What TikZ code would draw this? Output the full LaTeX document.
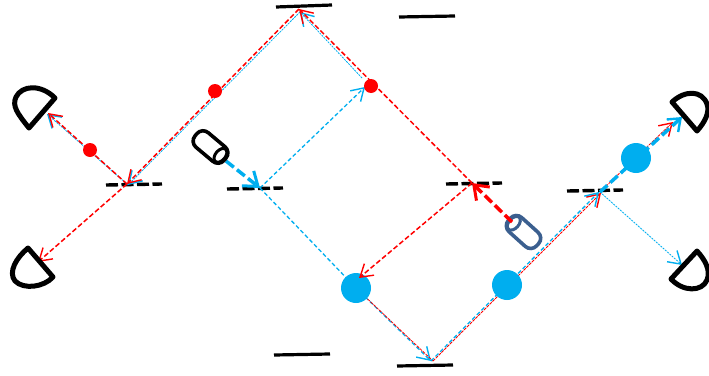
\documentclass[tikz,border=0pt]{standalone}
\usetikzlibrary{arrows.meta}
\definecolor{rayblue}{HTML}{00AEEF}
\definecolor{rayred}{HTML}{FF0000}
\definecolor{slate}{HTML}{3B5F8F}
\tikzset{
  barb/.style={-{Straight Barb[length=12pt,width=15pt,line width=1.4pt]}},
  bigbarb/.style={-{Straight Barb[length=13pt,width=19pt,line width=3pt]}},
  bluebeam/.style={draw=rayblue,line width=1.3pt,dash pattern=on 4pt off 2.5pt},
  redbeam/.style={draw=rayred,line width=1.5pt,dash pattern=on 5pt off 2.5pt},
  thinblue/.style={draw=rayblue,line width=.8pt,dash pattern=on 2pt off 1pt},
  thinred/.style={draw=rayred,line width=.8pt,dash pattern=on 3pt off 1pt},
  thickblue/.style={draw=rayblue,line width=3.5pt,dash pattern=on 10pt off 4pt},
  thickred/.style={draw=rayred,line width=3.5pt,dash pattern=on 10pt off 4pt},
  mirror/.style={draw=black,line width=3.2pt},
  splitter/.style={draw=black,line width=3.4pt,dash pattern=on 12pt off 3.5pt},
  detector/.style={draw=black,line width=5pt,line join=round},
  reddot/.style={circle,fill=rayred,inner sep=0pt,minimum size=14pt},
  bluedot/.style={circle,fill=rayblue,inner sep=0pt,minimum size=30pt},
}
\begin{document}
\begin{tikzpicture}[x=1pt,y=-1pt]
\useasboundingbox (0,0) rectangle (709,375);

% points where the beams meet
\coordinate (bsa) at (127,184);
\coordinate (bsb) at (260,188);
\coordinate (bsc) at (472,183);
\coordinate (bsd) at (600,192);
\coordinate (top) at (299,9);
\coordinate (bot) at (432,361);
\coordinate (dtl) at (48,113);
\coordinate (dbl) at (38,262);
\coordinate (dtr) at (682,117);
\coordinate (dbr) at (682,265);
\coordinate (srcb) at (226,161);
\coordinate (srcr) at (512,222);
\coordinate (bup) at (365,87);
\coordinate (bdn) at (356,288);
\coordinate (rdn) at (359,278);
% blue copies run just beside the red ones
\coordinate (bnr) at (362,78);
\coordinate (btop) at (300,12);
\coordinate (bbsa) at (128,185);
\coordinate (bdtl) at (47,114);
\coordinate (bbot) at (431,361);
\coordinate (bbsd) at (599,192);
\coordinate (rtip) at (673,122);
\coordinate (rbsd) at (601,193);
\coordinate (rbot) at (433,361);

% mirrors and beam splitters
\foreach \name/\xa/\ya/\xb/\yb in {ma/276/7/332/5, mb/399/17/455/16, mc/274/355/330/354, md/397/366/453/365}
    \draw[mirror] (\xa,\ya) coordinate (\name l) -- (\xb,\yb) coordinate (\name r);
\foreach \name/\xa/\ya/\xb/\yb in {sa/106/185/162/184, sb/227/189/283/188, sc/446/184/502/183, sd/567/191/623/190}
    \draw[splitter] (\xa,\ya) coordinate (\name l) -- (\xb,\yb) coordinate (\name r);

% blue beams
\draw[bluebeam,barb] (bsb) -- (bup);
\draw[bluebeam] (bsb) -- (bdn);
\draw[thinblue,barb] (bnr) -- (btop);
\draw[thinblue,barb] (btop) -- (bbsa);
\draw[thinblue,barb] (bbsa) -- (bdtl);
\draw[bluebeam,barb] (bdn) -- (bbot);
\draw[thinblue,barb] (bsd) -- (dbr);

% red beams
\draw[redbeam,barb] (bsc) -- (top);
\draw[redbeam,barb] (top) -- (bsa);
\draw[redbeam,barb] (bsa) -- (dtl);
\draw[redbeam,barb] (bsa) -- (dbl);
\draw[thinred] (bdn) -- (rbot);
\draw[thinred,barb] (rbot) -- (rbsd);
\draw[bluebeam,barb] (bbot) -- (bbsd);
\draw[thinred,barb] (bsd) -- (rtip);
\draw[thickblue,-{Straight Barb[length=11pt,width=17pt,line width=2.4pt]}] (bsd) -- (dtr);

% beam from the first source
\draw[thickblue,bigbarb] (srcb) -- (bsb);

% sources
\begin{scope}[shift={(210.5,147)},rotate=-40]
\draw[black,line width=3.6pt,fill=white,rounded corners=8pt] (-19,-9.5) rectangle (19,9.5);
\draw[black,line width=3pt] (13,0) ellipse (5 and 8);
\end{scope}
\begin{scope}[shift={(523.5,232)},rotate=-42]
\draw[slate,line width=3.6pt,fill=white,rounded corners=8pt] (-19,-9.5) rectangle (19,9.5);
\draw[slate,line width=3pt] (-13,0) ellipse (5 and 8);
\end{scope}

% beam from the second source
\draw[thickred,bigbarb] (srcr) -- (bsc);

% photons
\node[reddot] (pa) at (215,91) {};
\node[reddot] (pb) at (90,150) {};
\node[reddot] (pc) at (371,86) {};
\node[bluedot] (pd) at (356,288) {};
\node[bluedot] (pe) at (507,285) {};
\node[bluedot] (pf) at (636,158) {};
\draw[redbeam,barb] (bsc) -- (rdn);

% detectors
\draw[detector] (55,98) -- (29,128) .. controls (17,113) and (12,106) .. (16,97) .. controls (22,85) and (41,84) .. cycle;
\draw[detector] (28,248) -- (53,277) .. controls (44,287) and (24,290) .. (15,281) .. controls (8,272) and (16,258) .. cycle;
\draw[detector] (672,102) -- (697,131) .. controls (705,122) and (710,112) .. (707,104) .. controls (702,90) and (685,90) .. cycle;
\draw[detector] (697,251) .. controls (705,260) and (711,270) .. (707,280) .. controls (702,292) and (683,292) .. (671,279) -- cycle;
\end{tikzpicture}
\end{document}
